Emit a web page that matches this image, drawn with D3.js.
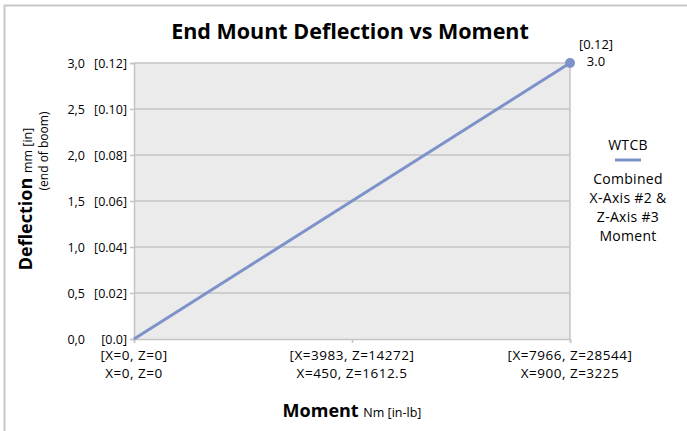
<!DOCTYPE html>
<html>
<head>
<meta charset="utf-8">
<script src="https://cdn.jsdelivr.net/npm/d3@7"></script>
<style>
  body { margin: 0; background: #fff; }
  text { font-family: "Open Sans", sans-serif; fill: #000; }
</style>
</head>
<body>
<script>
// data
const categories = [
  ["[X=0, Z=0]", "X=0, Z=0"],
  ["[X=3983, Z=14272]", "X=450, Z=1612.5"],
  ["[X=7966, Z=28544]", "X=900, Z=3225"]
];
const deflection = [0, 1.5, 3.0];
const yTicks = [0, 0.5, 1, 1.5, 2, 2.5, 3];
const yTickMm = ["0,0", "0,5", "1,0", "1,5", "2,0", "2,5", "3,0"];
const yTickIn = ["[0.0]", "[0.02]", "[0.04]", "[0.06]", "[0.08]", "[0.10]", "[0.12]"];
const legendLines = ["Combined", "X-Axis #2 &", "Z-Axis #3", "Moment"];

const W = 687, H = 431;
const plot = { left: 134, right: 570, top: 63, bottom: 339 };
const lineColor = "#7d92c8";
const gridColor = "#c4c4c4";

const svg = d3.select("body")
    .append("svg")
    .attr("width", W)
    .attr("height", H);

// chart frame (only top and left visible)
svg.append("path")
    .attr("d", `M4.5,${H} L4.5,5.5 L${W},5.5`)
    .attr("fill", "none")
    .attr("stroke", "#c8c8c8")
    .attr("stroke-width", 2);

const x = d3.scalePoint()
    .domain(d3.range(categories.length))
    .range([plot.left, plot.right]);

const y = d3.scaleLinear()
    .domain([0, 3])
    .range([plot.bottom, plot.top]);

// plot background
svg.append("rect")
    .attr("x", plot.left)
    .attr("y", plot.top)
    .attr("width", plot.right - plot.left)
    .attr("height", plot.bottom - plot.top)
    .attr("fill", "#ebebeb");

// gridlines
svg.append("g")
    .selectAll("line")
    .data(yTicks.slice(1))
    .join("line")
    .attr("x1", plot.left)
    .attr("x2", plot.right)
    .attr("y1", d => y(d))
    .attr("y2", d => y(d))
    .attr("stroke", gridColor)
    .attr("stroke-width", 1.5);

// right border
svg.append("line")
    .attr("x1", plot.right).attr("x2", plot.right)
    .attr("y1", plot.top).attr("y2", plot.bottom)
    .attr("stroke", gridColor)
    .attr("stroke-width", 1.5);

// y axis
const yAxis = svg.append("g")
    .attr("transform", `translate(${plot.left},0)`)
    .call(d3.axisLeft(y).tickValues(yTicks).tickSize(4).tickFormat(""));
yAxis.select(".domain").attr("stroke", gridColor).attr("stroke-width", 1.5);
yAxis.selectAll(".tick line").attr("stroke", gridColor).attr("stroke-width", 1.5);

// y tick labels in two columns: mm and [in]
svg.append("g")
    .selectAll("text")
    .data(yTicks)
    .join("text")
    .attr("x", 85)
    .attr("y", d => y(d) + 4.5)
    .attr("text-anchor", "end")
    .attr("font-size", 12.5)
    .text((d, i) => yTickMm[i]);
svg.append("g")
    .selectAll("text")
    .data(yTicks)
    .join("text")
    .attr("x", 127)
    .attr("y", d => y(d) + 4.5)
    .attr("text-anchor", "end")
    .attr("font-size", 12.5)
    .text((d, i) => yTickIn[i]);

// x axis
const xAxis = svg.append("g")
    .attr("transform", `translate(0,${plot.bottom})`)
    .call(d3.axisBottom(x).tickSize(4).tickFormat(""));
xAxis.select(".domain").attr("stroke", gridColor).attr("stroke-width", 1.5);
xAxis.selectAll(".tick line").attr("stroke", gridColor).attr("stroke-width", 1.5);

// x tick labels, two lines each
[0, 1].forEach(row => {
  svg.append("g")
      .selectAll("text")
      .data(categories)
      .join("text")
      .attr("x", (d, i) => x(i))
      .attr("y", 360 + row * 18)
      .attr("text-anchor", "middle")
      .attr("font-size", 13.5)
      .attr("letter-spacing", 0.5)
      .text(d => d[row]);
});

// series line
svg.append("path")
    .datum(deflection)
    .attr("d", d3.line().x((d, i) => x(i)).y(d => y(d)))
    .attr("fill", "none")
    .attr("stroke", lineColor)
    .attr("stroke-width", 3);

// end marker + data label
const last = deflection.length - 1;
svg.append("circle")
    .attr("cx", x(last))
    .attr("cy", y(deflection[last]))
    .attr("r", 5)
    .attr("fill", lineColor);

svg.append("text")
    .attr("x", x(last) + 26)
    .attr("y", y(deflection[last]) - 14)
    .attr("text-anchor", "middle")
    .attr("font-size", 13)
    .text(yTickIn[yTickIn.length - 1]);
svg.append("text")
    .attr("x", x(last) + 26)
    .attr("y", y(deflection[last]) + 3)
    .attr("text-anchor", "middle")
    .attr("font-size", 13)
    .text(d3.format(".1f")(deflection[last]));

// title
svg.append("text")
    .attr("x", 350)
    .attr("y", 39)
    .attr("text-anchor", "middle")
    .attr("font-size", 21.5)
    .attr("font-weight", "bold")
    .text("End Mount Deflection vs Moment");

// x axis title
const xt = svg.append("text")
    .attr("x", 352)
    .attr("y", 417)
    .attr("text-anchor", "middle");
xt.append("tspan").attr("font-size", 18).attr("font-weight", "bold").text("Moment ");
xt.append("tspan").attr("font-size", 12.5).text("Nm [in-lb]");

// y axis title
const yt = svg.append("text")
    .attr("transform", "translate(32,199) rotate(-90)")
    .attr("text-anchor", "middle");
yt.append("tspan").attr("font-size", 18).attr("font-weight", "bold").text("Deflection ");
yt.append("tspan").attr("font-size", 12.5).text("mm [in]");
svg.append("text")
    .attr("transform", "translate(48,151) rotate(-90)")
    .attr("text-anchor", "middle")
    .attr("font-size", 12)
    .text("(end of boom)");

// legend
const lx = 628;
svg.append("text")
    .attr("x", lx)
    .attr("y", 150)
    .attr("text-anchor", "middle")
    .attr("font-size", 14)
    .attr("letter-spacing", 0.3)
    .text("WTCB");
svg.append("line")
    .attr("x1", lx - 13).attr("x2", lx + 13)
    .attr("y1", 160).attr("y2", 160)
    .attr("stroke", lineColor)
    .attr("stroke-width", 3);
svg.append("g")
    .selectAll("text")
    .data(legendLines)
    .join("text")
    .attr("x", lx)
    .attr("y", (d, i) => 184 + i * 19)
    .attr("text-anchor", "middle")
    .attr("font-size", 14)
    .attr("letter-spacing", 0.3)
    .text(d => d);
</script>
</body>
</html>
